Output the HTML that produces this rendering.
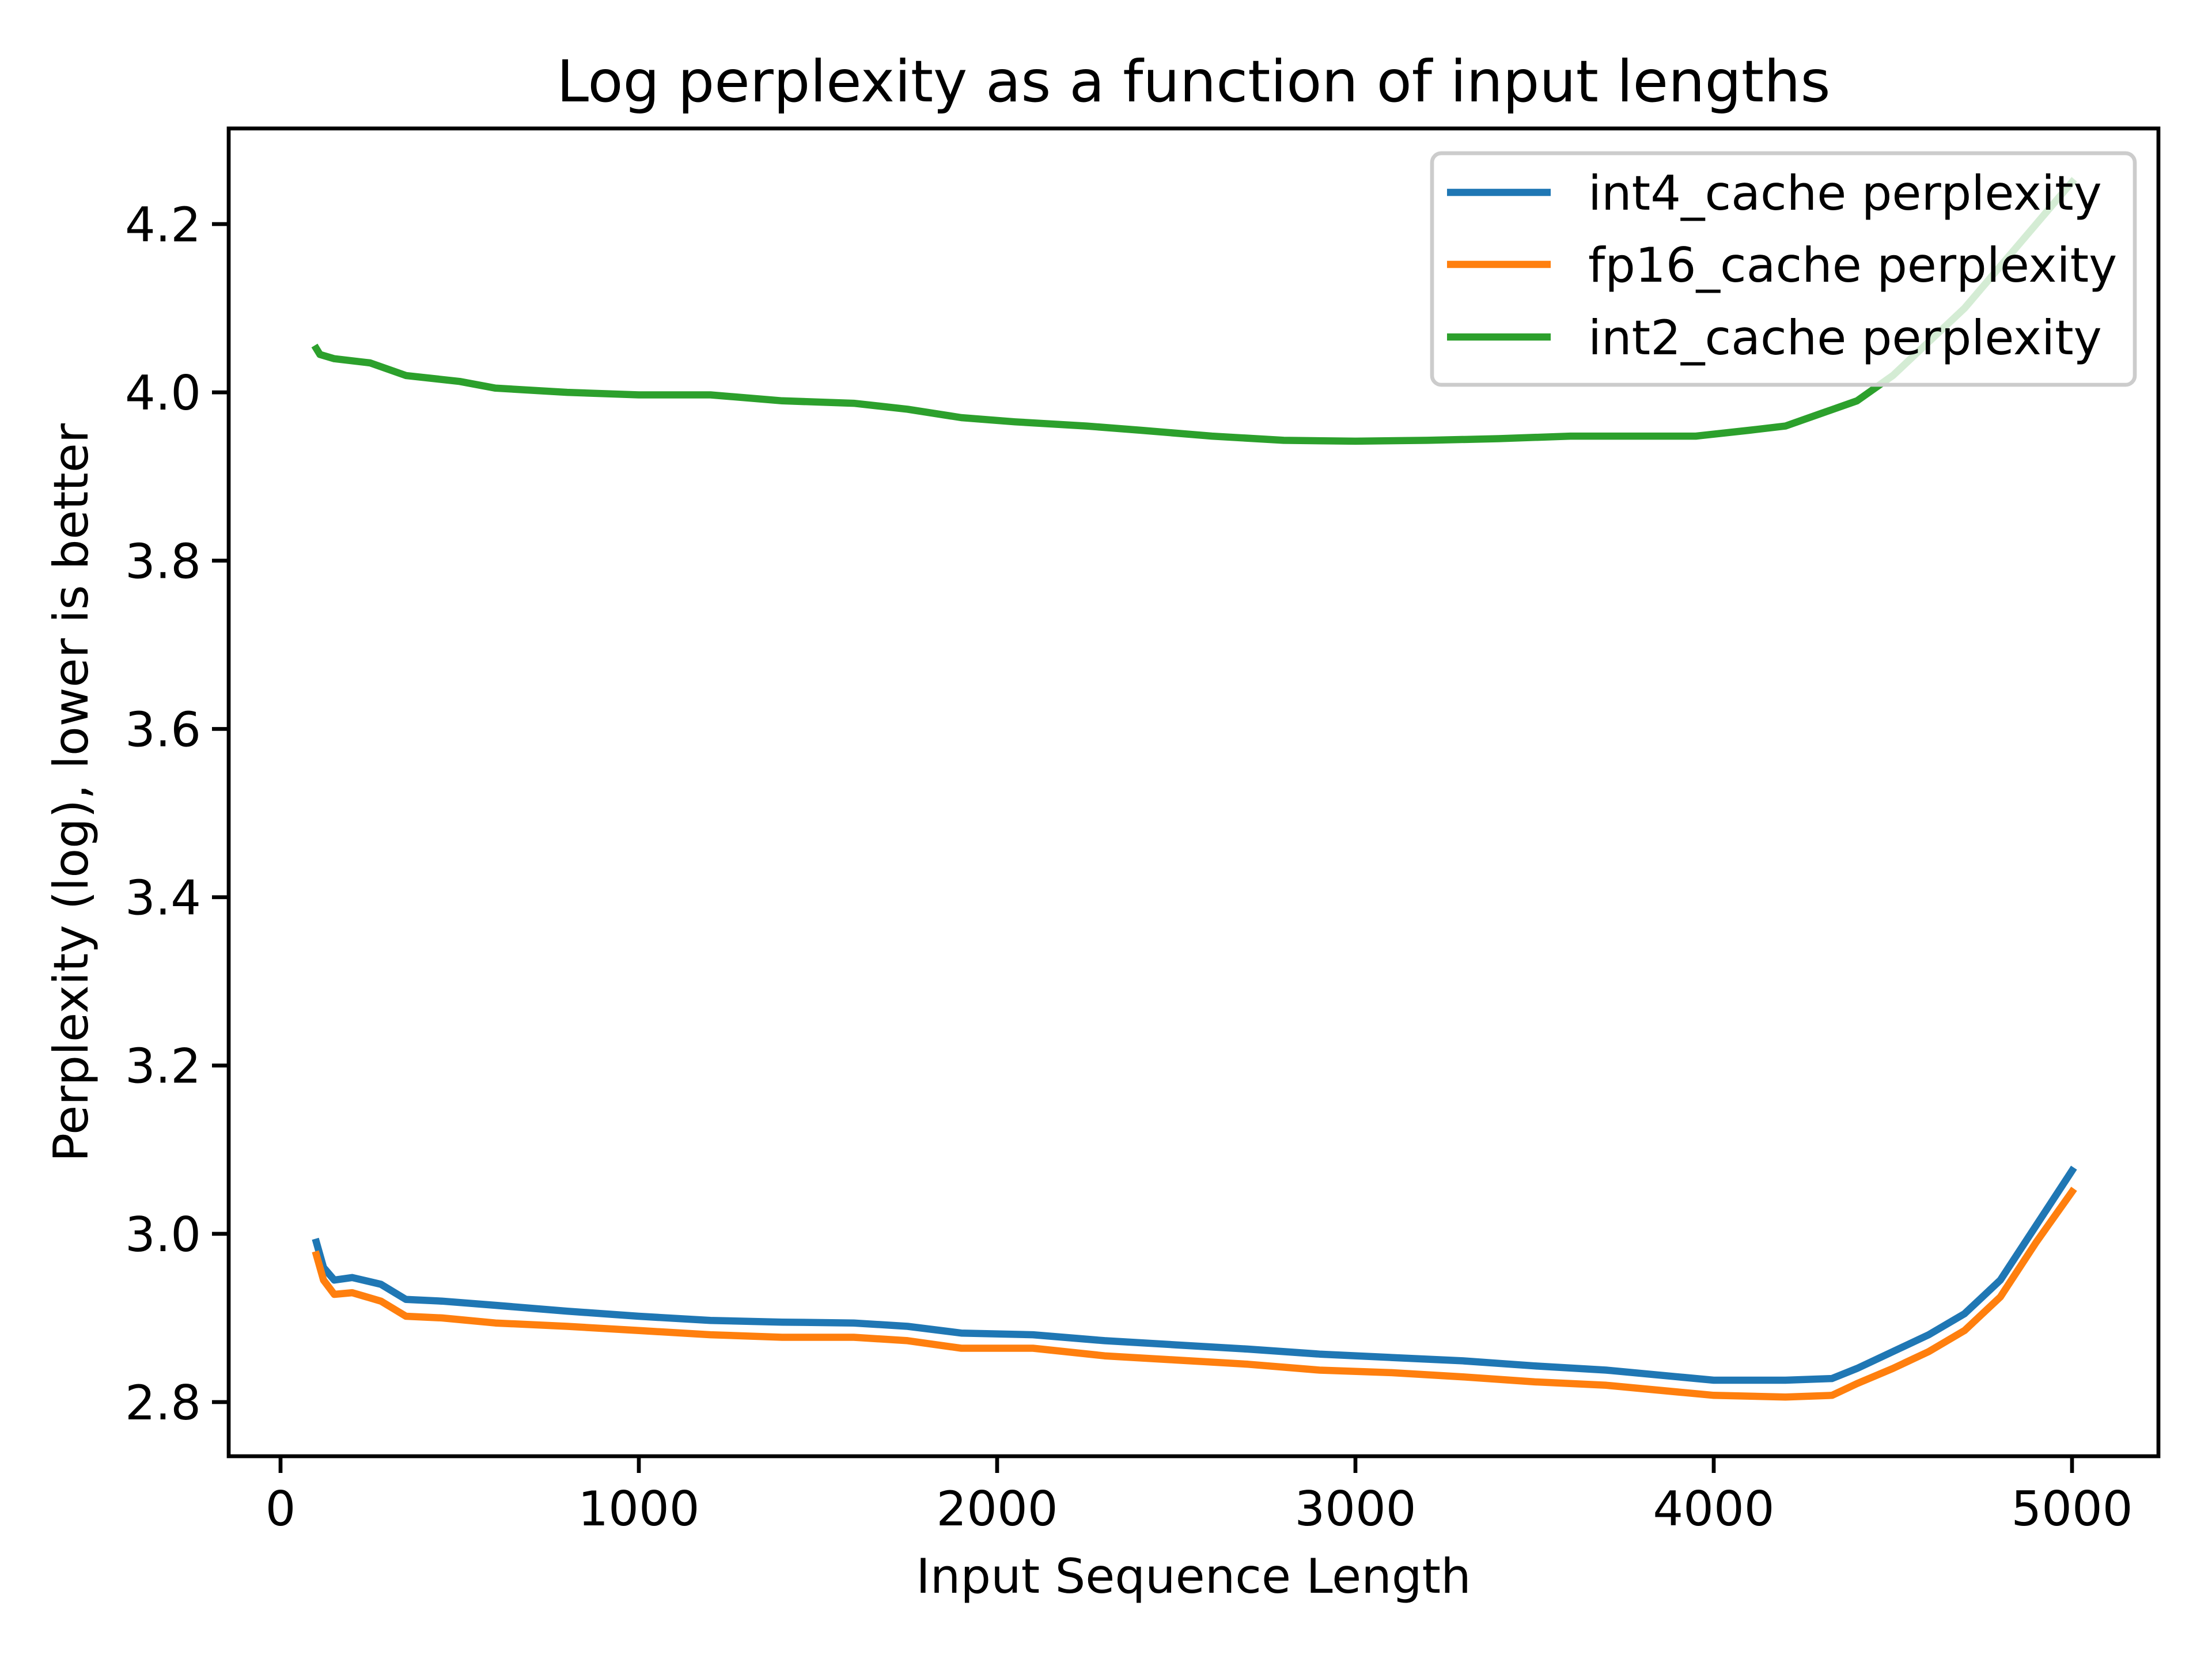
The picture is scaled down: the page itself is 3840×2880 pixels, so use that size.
<!DOCTYPE html>
<html><head><meta charset="utf-8"><style>
html,body{margin:0;padding:0;background:#fff;}
svg{display:block;font-family:"DejaVu Sans","Liberation Sans",sans-serif;}
</style></head><body>
<svg id="chart" width="3840" height="2880" viewBox="0 0 3840 2880" xmlns="http://www.w3.org/2000/svg">
<rect width="3840" height="2880" fill="#fff"/>
<text x="2072" y="176" font-size="100" text-anchor="middle">Log perplexity as a function of input lengths</text>
<text x="2072" y="2765" font-size="83" text-anchor="middle">Input Sequence Length</text>
<text transform="translate(152,1376) rotate(-90)" font-size="83" text-anchor="middle">Perplexity (log), lower is better</text>
<g id="plot"></g>
<g id="axes"></g>
<g id="legend"></g>
</svg>
<script>
const xTicks = [0, 1000, 2000, 3000, 4000, 5000];
const yTicks = [2.8, 3.0, 3.2, 3.4, 3.6, 3.8, 4.0, 4.2];
const xs = [100,120,150,200,280,350,450,600,800,1000,1200,1400,1600,1750,1900,2100,2300,2500,2700,2900,3100,3300,3500,3700,3900,4000,4200,4330,4400,4500,4600,4700,4800,4900,5000];
const int4 = [2.99,2.96,2.945,2.948,2.94,2.922,2.92,2.915,2.908,2.902,2.897,2.895,2.894,2.89,2.882,2.88,2.873,2.868,2.863,2.857,2.853,2.849,2.843,2.838,2.83,2.826,2.826,2.828,2.84,2.86,2.88,2.905,2.945,3.01,3.075];
const fp16 = [2.975,2.945,2.928,2.93,2.92,2.902,2.9,2.894,2.89,2.885,2.88,2.877,2.877,2.873,2.864,2.864,2.855,2.85,2.845,2.838,2.835,2.83,2.824,2.82,2.812,2.808,2.806,2.808,2.822,2.84,2.86,2.885,2.925,2.99,3.05];
const int2x = [100,110,150,250,350,500,600,800,1000,1200,1400,1600,1750,1900,2050,2250,2400,2600,2800,3000,3200,3400,3600,3800,3950,4100,4200,4300,4400,4500,4600,4700,4800,4900,5000];
const int2 = [4.052,4.045,4.04,4.035,4.02,4.013,4.005,4.0,3.997,3.997,3.99,3.987,3.98,3.97,3.965,3.96,3.955,3.948,3.943,3.942,3.943,3.945,3.948,3.948,3.948,3.955,3.96,3.975,3.99,4.02,4.06,4.1,4.15,4.2,4.25];
const seriesNames = ["int4_cache perplexity","fp16_cache perplexity","int2_cache perplexity"];

const L=397,R=3747,T=223,B=2528;
function X(v){return 487+(v-0)*(3597-487)/5000;}
function Y(v){return 389+(4.2-v)*(2434-389)/1.4;}
const NS="http://www.w3.org/2000/svg";
function mk(tag,attrs,parent){const e=document.createElementNS(NS,tag);for(const k in attrs)e.setAttribute(k,attrs[k]);parent.appendChild(e);return e;}
const plot=document.getElementById('plot'),axes=document.getElementById('axes'),leg=document.getElementById('legend');

function line(xv,yv,color,name){
  const d=xv.map((x,i)=>(i?'L':'M')+X(x).toFixed(1)+','+Y(yv[i]).toFixed(1)).join(' ');
  const p=mk('path',{d:d,fill:'none',stroke:color,'stroke-width':12.5,'stroke-linejoin':'round','stroke-linecap':'square'},plot);
  
  
}
line(xs,int4,'#1f77b4','int4-cache-line');
line(xs,fp16,'#ff7f0e','fp16-cache-line');
line(int2x,int2,'#2ca02c','int2-cache-line');

const frame=mk('rect',{x:L,y:T,width:R-L,height:B-T,fill:'none',stroke:'#000','stroke-width':6.7},axes);


xTicks.forEach(t=>{
  const tk=mk('line',{x1:X(t),x2:X(t),y1:B,y2:B+29,stroke:'#000','stroke-width':6.7},axes);
  
  
  const tx=mk('text',{x:X(t),y:B+120,'font-size':83,'text-anchor':'middle'},axes);
  tx.textContent=t;
  
  
});
yTicks.forEach(t=>{
  const tk=mk('line',{x1:L-29,x2:L,y1:Y(t),y2:Y(t),stroke:'#000','stroke-width':6.7},axes);
  
  
  const tx=mk('text',{x:L-48,y:Y(t)+30,'font-size':83,'text-anchor':'end'},axes);
  tx.textContent=t.toFixed(1);
  
  
});

const box=mk('rect',{x:2486,y:266,width:1220,height:402,rx:16,fill:'#fff','fill-opacity':0.8,stroke:'#cccccc','stroke-width':6.7},leg);


const cols=['#1f77b4','#ff7f0e','#2ca02c'];
const ly=[334,459,585];
seriesNames.forEach((n,i)=>{
  const h=mk('line',{x1:2512,x2:2692,y1:ly[i],y2:ly[i],stroke:cols[i],'stroke-width':12.5},leg);
  
  
  const t=mk('text',{x:2757,y:ly[i]+30,'font-size':83},leg);
  t.textContent=n;
  
  
});
</script>
</body></html>
